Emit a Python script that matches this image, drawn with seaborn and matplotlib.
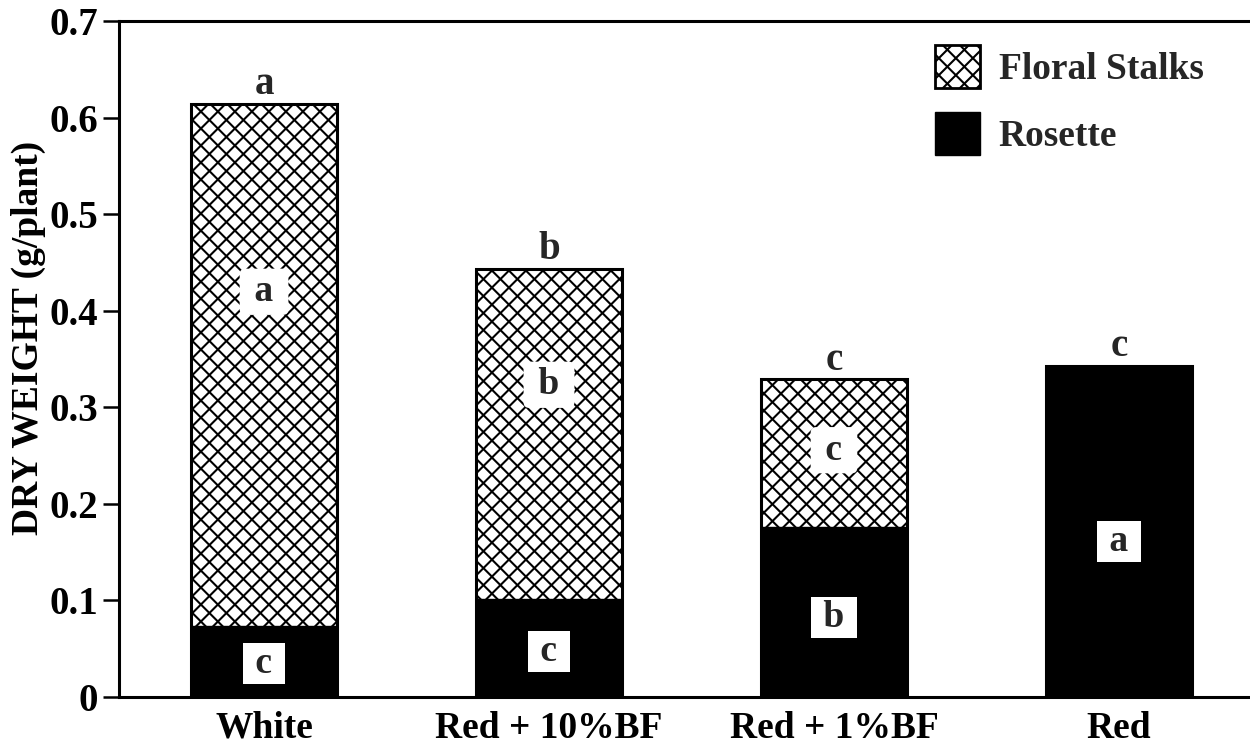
import matplotlib
matplotlib.use("Agg")
import matplotlib.pyplot as plt
import numpy as np
import pandas as pd
import seaborn as sns
from matplotlib.patches import Patch
from matplotlib.collections import LineCollection
from matplotlib.transforms import IdentityTransform
from matplotlib.ticker import FixedLocator, FixedFormatter

# ---- data -------------------------------------------------------------
treatments = ["White", "Red + 10%BF", "Red + 1%BF", "Red"]
rosette = [0.074, 0.101, 0.176, 0.343]          # g/plant
floral_stalks = [0.540, 0.342, 0.153, 0.0]      # g/plant
top_letters = ["a", "b", "c", "c"]
floral_letters = ["a", "b", "c", ""]
rosette_letters = ["c", "c", "b", "a"]
series_names = ["Floral Stalks", "Rosette"]
y_ticks = [0.0, 0.1, 0.2, 0.3, 0.4, 0.5, 0.6, 0.7]
y_tick_labels = ["0", "0.1", "0.2", "0.3", "0.4", "0.5", "0.6", "0.7"]
y_label = "DRY WEIGHT (g/plant)"

# where the in-bar letters sit, as a fraction of each segment's height
floral_label_frac = [0.64, 0.65, 0.52, 0.5]
rosette_label_frac = [0.47, 0.47, 0.47, 0.47]

df = pd.DataFrame({"treatment": treatments,
                   "rosette": rosette,
                   "floral": floral_stalks})
df["total"] = df["rosette"] + df["floral"]

# ---- style ------------------------------------------------------------
sns.set_theme(style="white")
plt.rcParams["font.family"] = ["Liberation Serif", "DejaVu Serif"]
plt.rcParams["font.weight"] = "bold"
plt.rcParams["axes.labelweight"] = "bold"

DPI = 100
fig = plt.figure(figsize=(12.5, 7.48), dpi=DPI)
ax = fig.add_axes([119 / 1250, 1 - 697 / 748, 1 - 119 / 1250, (697 - 21) / 748])

bar_w = 0.51
# full stacked height (floral stalks sit on top of the rosette)
sns.barplot(data=df, x="treatment", y="total", order=treatments,
            color="white", saturation=1, edgecolor="black", linewidth=2.2,
            width=bar_w, ax=ax, errorbar=None)
floral_bars = list(ax.patches)
# rosette portion, solid black
sns.barplot(data=df, x="treatment", y="rosette", order=treatments,
            color="black", saturation=1, edgecolor="black", linewidth=1.0,
            width=bar_w, ax=ax, errorbar=None)
rosette_bars = [p for p in ax.patches if p not in floral_bars]
for p in floral_bars:
    p.set_zorder(1.0)
for p in rosette_bars:
    p.set_zorder(1.5)

ax.set_xlim(-0.509, 3.46)
ax.set_ylim(0, 0.7)

# ---- letters ----------------------------------------------------------
letter_fs = 28
inner_fs = 27
for i, t in enumerate(treatments):
    r = rosette[i]
    f = floral_stalks[i]
    ax.annotate(top_letters[i], xy=(i, r + f), xytext=(0, 0.5),
                textcoords="offset points", ha="center", va="bottom",
                fontsize=letter_fs, fontweight="bold", zorder=3)
    if floral_letters[i]:
        ax.text(i, r + f * floral_label_frac[i], f" {floral_letters[i]} ",
                ha="center", va="center", fontsize=inner_fs,
                fontweight="bold", zorder=3,
                bbox=dict(boxstyle="round,pad=0.15", fc="white", ec="none"))
    ax.text(i, r * rosette_label_frac[i], f" {rosette_letters[i]} ",
            ha="center", va="center", fontsize=inner_fs, fontweight="bold",
            zorder=3,
            bbox=dict(boxstyle="square,pad=0.08", fc="white", ec="none"))

# ---- axes -------------------------------------------------------------
ax.yaxis.set_major_locator(FixedLocator(y_ticks))
ax.yaxis.set_major_formatter(FixedFormatter(y_tick_labels))
ax.tick_params(axis="y", direction="out", length=11.5, width=1.8,
               pad=3.5, labelsize=28, left=True, color="black")
ax.tick_params(axis="x", length=0, pad=10, labelsize=27)
for lab in ax.get_xticklabels() + ax.get_yticklabels():
    lab.set_fontweight("bold")
    lab.set_color("black")

ax.set_xlabel("")
ax.set_ylabel(y_label, fontsize=27, fontweight="bold", color="black")
ax.yaxis.set_label_coords(-0.0646, 0.531)

for side in ["left", "bottom", "top"]:
    ax.spines[side].set_visible(True)
    ax.spines[side].set_color("black")
    ax.spines[side].set_linewidth(2.2)
ax.spines["right"].set_visible(False)

# ---- legend -----------------------------------------------------------
handles = [Patch(facecolor="white", edgecolor="black",
                 linewidth=2.0, label=series_names[0]),
           Patch(facecolor="black", edgecolor="black",
                 linewidth=1.0, label=series_names[1])]
leg = ax.legend(handles=handles, loc="upper left",
                bbox_to_anchor=(935 / 1250, 1 - 45 / 748),
                bbox_transform=fig.transFigure, frameon=False,
                prop=dict(size=27, weight="bold"),
                handlelength=1.2, handleheight=1.4, handletextpad=0.5,
                labelspacing=0.62, borderpad=0, borderaxespad=0)


# ---- cross-hatching (45 degree lines, fixed pixel spacing) -------------
def crosshatch(patch, spacing=17.0, lw=1.5, zorder=1.2, on_figure=False):
    bb = patch.get_window_extent()
    x0, y0, x1, y1 = bb.x0, bb.y0, bb.x1, bb.y1
    h = y1 - y0
    segs = []
    for c in np.arange(x0 - h - spacing, x1 + spacing, spacing):
        segs.append([(c, y0), (c + h, y1)])
        segs.append([(c + h, y0), (c, y1)])
    lc = LineCollection(segs, colors="black", linewidths=lw,
                        transform=IdentityTransform(), zorder=zorder)
    if on_figure:
        fig.add_artist(lc)
    else:
        ax.add_collection(lc, autolim=False)
    # clip after adding, so the axes does not replace the clip region
    lc.set_clip_box(patch.get_window_extent())
    lc.set_clip_on(True)
    return lc


fig.canvas.draw()
for p in floral_bars:
    crosshatch(p)
fig.canvas.draw()
crosshatch(leg.get_patches()[0], zorder=10, on_figure=True)

fig.savefig("out.png", dpi=DPI, facecolor="white")
